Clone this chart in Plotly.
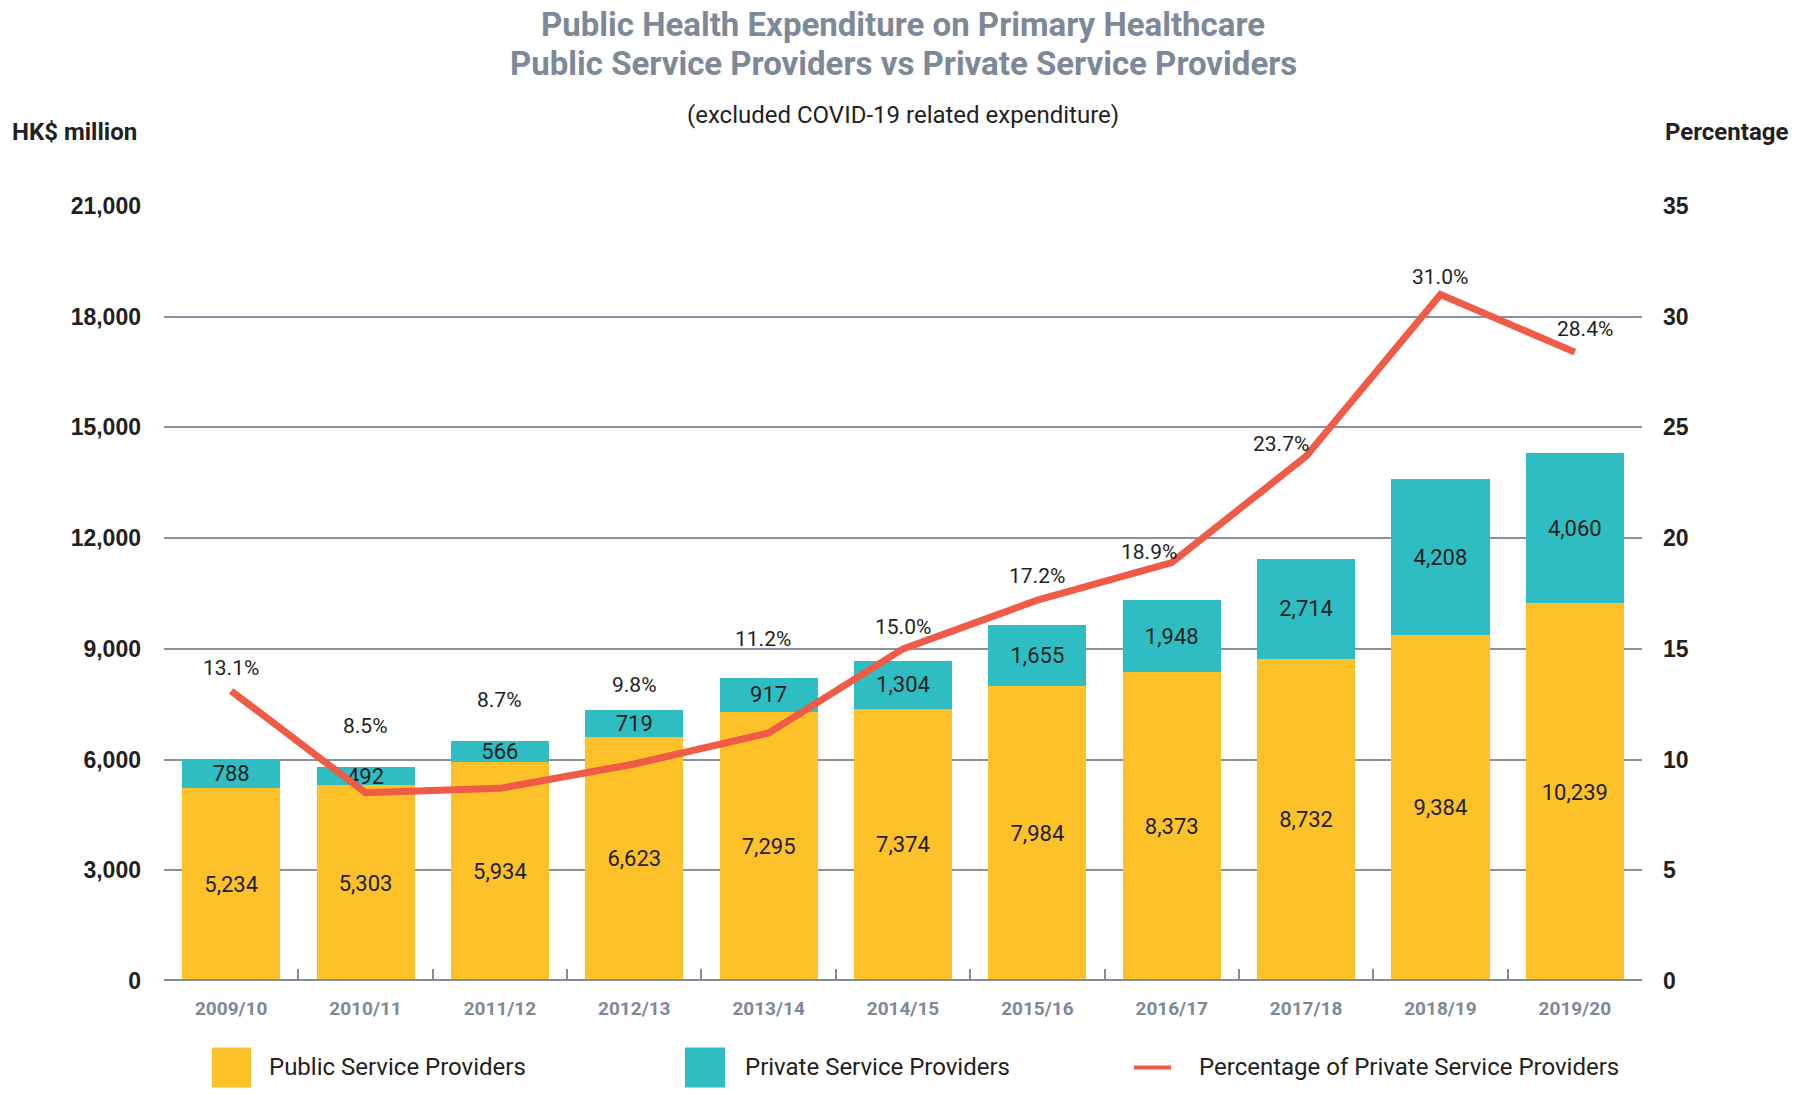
import plotly.graph_objects as go

# ---- data ----
years = ["2009/10", "2010/11", "2011/12", "2012/13", "2013/14", "2014/15",
         "2015/16", "2016/17", "2017/18", "2018/19", "2019/20"]
public_vals = [5234, 5303, 5934, 6623, 7295, 7374, 7984, 8373, 8732, 9384, 10239]
private_vals = [788, 492, 566, 719, 917, 1304, 1655, 1948, 2714, 4208, 4060]
pct_vals = [13.1, 8.5, 8.7, 9.8, 11.2, 15.0, 17.2, 18.9, 23.7, 31.0, 28.4]
y_ticks = [0, 3000, 6000, 9000, 12000, 15000, 18000, 21000]
y2_ticks = [0, 5, 10, 15, 20, 25, 30, 35]

# ---- style ----
YELLOW = "#FDC12A"
TEAL = "#2DBDC3"
RED = "#EF5B47"
GRID = "#8592A2"
TITLE_GRAY = "#7D8998"
DARK = "#231F20"
# pixel offsets of percentage labels relative to their points
label_dy = [23, 67, 88, 79, 94, 22, 24, 11, 12, 18, 23]
label_dx = [0, 0, 0, 0, -6, 0, 0, -23, -25, 0, 10]

W, H = 1800, 1094
# plot area in page pixels
PL, PR, PT, PB = 164, 1642, 206, 981.5
ML, MT = PL, PT
MR = W - PR
MB = H - PB


def px(xp):
    return (xp - PL) / (PR - PL)


def py(yp):
    return (PB - yp) / (PB - PT)


fig = go.Figure()
fig.add_trace(go.Bar(
    x=years, y=public_vals, name="Public Service Providers",
    marker=dict(color=YELLOW, line=dict(width=0)),
    texttemplate="%{y:,}", textposition="inside", insidetextanchor="middle",
    constraintext="none",
    textfont=dict(family="Roboto", size=22, color=DARK),
    showlegend=False,
))
fig.add_trace(go.Bar(
    x=years, y=private_vals, name="Private Service Providers",
    marker=dict(color=TEAL, line=dict(width=0)),
    texttemplate="%{y:,}", textposition="inside", insidetextanchor="middle",
    constraintext="none",
    textfont=dict(family="Roboto", size=22, color=DARK),
    showlegend=False,
))
fig.add_trace(go.Scatter(
    x=years, y=pct_vals, yaxis="y2", mode="lines",
    name="Percentage of Private Service Providers",
    line=dict(color=RED, width=7),
    showlegend=False,
))

annotations = []
for i, (yr, p) in enumerate(zip(years, pct_vals)):
    annotations.append(dict(
        x=yr, y=p, xref="x", yref="y2", text=f"{p:.1f}%", showarrow=False,
        xanchor="center", yanchor="middle", yshift=label_dy[i], xshift=label_dx[i],
        font=dict(family="Roboto", size=21, color=DARK),
    ))

# titles
annotations += [
    dict(x=px(903), y=py(24.5), xref="paper", yref="paper", showarrow=False,
         text="<b>Public Health Expenditure on Primary Healthcare</b>",
         font=dict(family="Roboto", size=33, color=TITLE_GRAY), yanchor="middle"),
    dict(x=px(903), y=py(63.5), xref="paper", yref="paper", showarrow=False,
         text="<b>Public Service Providers vs Private Service Providers</b>",
         font=dict(family="Roboto", size=33, color=TITLE_GRAY), yanchor="middle"),
    dict(x=px(903), y=py(115), xref="paper", yref="paper", showarrow=False,
         text="(excluded COVID-19 related expenditure)",
         font=dict(family="Roboto", size=24, color=DARK), yanchor="middle"),
    dict(x=px(10), y=py(132), xref="paper", yref="paper", showarrow=False,
         text="<b>HK$ million</b>", xanchor="left", yanchor="middle",
         font=dict(family="Roboto", size=24, color=DARK)),
    dict(x=px(1663), y=py(132), xref="paper", yref="paper", showarrow=False,
         text="<b>Percentage</b>", xanchor="left", yanchor="middle",
         font=dict(family="Roboto", size=24, color=DARK)),
]

# manual legend
LEG_Y = 1068
legend_items = [
    ("rect", YELLOW, 212, 251, 267, "Public Service Providers"),
    ("rect", TEAL, 685, 725, 743, "Private Service Providers"),
    ("line", RED, 1134, 1171, 1197, "Percentage of Private Service Providers"),
]
shapes = []
for kind, col, x0, x1, xt, label in legend_items:
    if kind == "rect":
        shapes.append(dict(type="rect", xref="paper", yref="paper",
                           x0=px(x0), x1=px(x1), y0=py(LEG_Y + 20), y1=py(LEG_Y - 20),
                           fillcolor=col, line=dict(width=0)))
    else:
        shapes.append(dict(type="line", xref="paper", yref="paper",
                           x0=px(x0), x1=px(x1), y0=py(LEG_Y), y1=py(LEG_Y),
                           line=dict(color=col, width=4)))
    annotations.append(dict(x=px(xt), y=py(LEG_Y), xref="paper", yref="paper",
                            text=label, showarrow=False, xanchor="left", yanchor="middle",
                            font=dict(family="Roboto", size=24, color=DARK)))

# zero baseline
shapes.append(dict(type="line", xref="paper", yref="y", x0=0, x1=1, y0=0, y1=0,
                   line=dict(color="#7F8C9B", width=4), layer="above"))

fig.update_layout(
    width=W, height=H,
    margin=dict(l=ML, r=MR, t=MT, b=MB, autoexpand=False),
    paper_bgcolor="white", plot_bgcolor="white",
    barmode="stack", bargap=0.27,
    annotations=annotations, shapes=shapes,
    showlegend=False,
    xaxis=dict(
        type="category", range=[-0.5, 10.5],
        tickfont=dict(family="Roboto", size=19, color=TITLE_GRAY, weight="bold"),
        ticks="inside", tickson="boundaries", ticklen=12, tickwidth=1.5,
        tickcolor="#7F8C9B", showgrid=False, showline=False, zeroline=False,
        ticklabelstandoff=14,
    ),
    yaxis=dict(
        range=[0, 21000], tickvals=y_ticks, tickformat=",",
        tickfont=dict(family="Liberation Sans", size=23, color=DARK, weight="bold"),
        showgrid=True, gridcolor=GRID, gridwidth=2, zeroline=False,
        showline=False, ticks="", ticklabelstandoff=22,
    ),
    yaxis2=dict(
        range=[0, 35], tickvals=y2_ticks, overlaying="y", side="right",
        tickfont=dict(family="Liberation Sans", size=23, color=DARK, weight="bold"),
        showgrid=False, zeroline=False, showline=False, ticks="",
        ticklabelstandoff=20,
    ),
)

fig.write_html("out.html", config={"displayModeBar": False},
               post_script="document.body.style.margin='0';")
